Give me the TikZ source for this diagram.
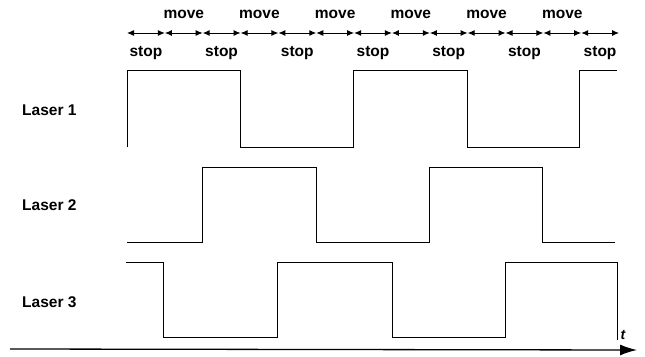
\documentclass[tikz,border=0pt]{standalone}
\usepackage{fontspec}
\setmainfont{Liberation Sans}
\usetikzlibrary{arrows.meta}
\begin{document}
\begin{tikzpicture}[x=1pt,y=-1pt,
  lbl/.style={font=\bfseries\fontsize{15.5}{15.5}\selectfont, inner sep=0pt},
  wave/.style={line width=1pt, line join=miter},
  seg/.style={{Latex[length=7pt,width=6pt]}-{Latex[length=7pt,width=6pt]}, line width=1pt},
  axis/.style={-{Latex[length=17pt,width=11pt]}, line width=1.3pt}]
\useasboundingbox (0,0) rectangle (645,356);
% stop / move scale
\foreach \k in {0,...,13} \coordinate (b\k) at ({127+37.85*\k},33);
\foreach \k [evaluate=\k as \n using int(\k+1)] in {0,...,12} \draw[seg] (b\k) -- (b\n);
\foreach \k in {0,2,...,12} \node[lbl] (stop\k) at ({127+37.85*\k+18.9},53) {stop};
\foreach \k in {1,3,...,11} \node[lbl] (move\k) at ({127+37.85*\k+18.9},14) {move};
% labels
\node[lbl, anchor=west] (l1) at (22,110) {Laser 1};
\node[lbl, anchor=west] (l2) at (22,205) {Laser 2};
\node[lbl, anchor=west] (l3) at (22,302) {Laser 3};
% waveforms
\draw[wave] (127,147) -- (127,70) -- (240,70) -- (240,147) -- (353,147) -- (353,70) -- (467,70) -- (467,147) -- (579,147) -- (579,70) -- (617,70);
\draw[wave] (127,242) -- (202,242) -- (202,167) -- (316,167) -- (316,242) -- (429,242) -- (429,167) -- (542,167) -- (542,242) -- (615,242);
\draw[wave] (126,262) -- (163,262) -- (163,337) -- (277,337) -- (277,262) -- (392,262) -- (392,337) -- (505,337) -- (505,262) -- (617,262) -- (617,340);
% time axis
\coordinate (ax0) at (10,349);
\coordinate (ax1) at (637,350);
\draw[axis] (ax0) -- (ax1);
\node[font=\bfseries\itshape\fontsize{14}{14}\selectfont, inner sep=0pt] (t) at (623,335) {t};
\end{tikzpicture}
\end{document}
